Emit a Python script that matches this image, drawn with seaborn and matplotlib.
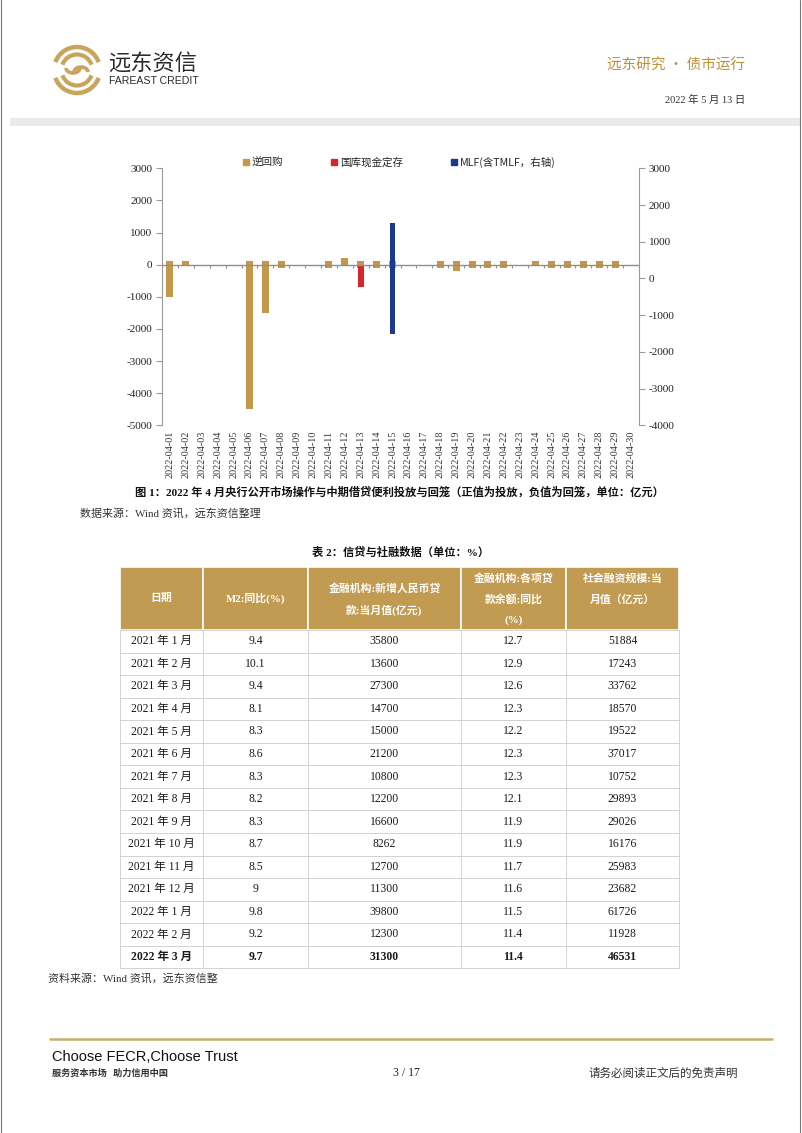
import numpy as np
import pandas as pd
import matplotlib
matplotlib.use("Agg")
import matplotlib.pyplot as plt
from matplotlib.patches import Rectangle, Arc, Patch
import seaborn as sns

# ---------------- data ----------------
dates = ["2022-04-01", "2022-04-02", "2022-04-03", "2022-04-04", "2022-04-05",
         "2022-04-06", "2022-04-07", "2022-04-08", "2022-04-09", "2022-04-10",
         "2022-04-11", "2022-04-12", "2022-04-13", "2022-04-14", "2022-04-15",
         "2022-04-16", "2022-04-17", "2022-04-18", "2022-04-19", "2022-04-20",
         "2022-04-21", "2022-04-22", "2022-04-23", "2022-04-24", "2022-04-25",
         "2022-04-26", "2022-04-27", "2022-04-28", "2022-04-29", "2022-04-30"]
nan = np.nan
# 逆回购投放 / 到期
rr_in = [100, 100, nan, nan, nan, 100, 100, 100, nan, nan,
         100, 200, 100, 100, 100, nan, nan, 100, 100, 100,
         100, 100, nan, 100, 100, 100, 100, 100, 100, nan]
rr_out = [-1000, nan, nan, nan, nan, -4500, -1500, -100, nan, nan,
          -100, nan, -100, -100, -100, nan, nan, -100, -200, -100,
          -100, -100, nan, nan, -100, -100, -100, -100, -100, nan]
# 国库现金定存
deposit = [nan, nan, nan, nan, nan, nan, nan, nan, nan, nan,
           nan, nan, -700, nan, nan, nan, nan, nan, nan, nan,
           nan, nan, nan, nan, nan, nan, nan, nan, nan, nan]
# MLF（右轴）
mlf_in = [nan, nan, nan, nan, nan, nan, nan, nan, nan, nan,
          nan, nan, nan, nan, 1500, nan, nan, nan, nan, nan,
          nan, nan, nan, nan, nan, nan, nan, nan, nan, nan]
mlf_out = [nan, nan, nan, nan, nan, nan, nan, nan, nan, nan,
           nan, nan, nan, nan, -1500, nan, nan, nan, nan, nan,
           nan, nan, nan, nan, nan, nan, nan, nan, nan, nan]

left_ticks = [3000, 2000, 1000, 0, -1000, -2000, -3000, -4000, -5000]
right_ticks = [3000, 2000, 1000, 0, -1000, -2000, -3000, -4000]

# table
tbl_dates = ["2021 年 1 月", "2021 年 2 月", "2021 年 3 月", "2021 年 4 月", "2021 年 5 月",
             "2021 年 6 月", "2021 年 7 月", "2021 年 8 月", "2021 年 9 月", "2021 年 10 月",
             "2021 年 11 月", "2021 年 12 月", "2022 年 1 月", "2022 年 2 月", "2022 年 3 月"]
m2_yoy = ["9.4", "10.1", "9.4", "8.1", "8.3", "8.6", "8.3", "8.2", "8.3", "8.7",
          "8.5", "9", "9.8", "9.2", "9.7"]
new_loans = ["35800", "13600", "27300", "14700", "15000", "21200", "10800", "12200",
             "16600", "8262", "12700", "11300", "39800", "12300", "31300"]
loan_yoy = ["12.7", "12.9", "12.6", "12.3", "12.2", "12.3", "12.3", "12.1", "11.9",
            "11.9", "11.7", "11.6", "11.5", "11.4", "11.4"]
tsf = ["51884", "17243", "33762", "18570", "19522", "37017", "10752", "29893",
       "29026", "16176", "25983", "23682", "61726", "11928", "46531"]
tbl_header = [["日期"], ["M2:同比(%)"], ["金融机构:新增人民币贷", "款:当月值(亿元)"],
              ["金融机构:各项贷", "款余额:同比", "(%)"], ["社会融资规模:当", "月值（亿元）"]]

# ---------------- style ----------------
sns.set_theme(style="white")
plt.rcParams["font.family"] = ["Liberation Serif", "Noto Sans CJK SC", "DejaVu Sans"]
MIX = ["Liberation Serif", "Noto Sans CJK SC"]
CJK = ["Noto Sans CJK SC", "DejaVu Sans"]
TAN = "#C4984A"
RED = "#D7262E"
NAVY = "#1C3A8C"
GOLD = "#C29B52"
AXC = "#9A9A9A"

W, H = 802, 1133
fig = plt.figure(figsize=(W / 100, H / 100), dpi=100)

page = fig.add_axes([0, 0, 1, 1], zorder=0)
page.set_xlim(0, W)
page.set_ylim(H, 0)
page.axis("off")

# ---------------- header ----------------
page.plot([1, 1], [0, H], color="#777777", lw=0.8)
page.plot([800, 800], [0, H], color="#777777", lw=0.8)
cx, cy = 77, 70
LOGO = "#C9A45C"
for r, lw_ in [(23, 3.2), (15.5, 3.0)]:
    page.add_patch(Arc((cx, cy), 2 * r, 2 * r, theta1=200, theta2=340, color=LOGO, lw=lw_))
    page.add_patch(Arc((cx, cy), 2 * r, 2 * r, theta1=20, theta2=160, color=LOGO, lw=lw_))
page.add_patch(Arc((cx - 4, cy - 2), 14, 10, theta1=0, theta2=180, color=LOGO, lw=2.6))
page.add_patch(Arc((cx + 4, cy + 2), 14, 10, theta1=180, theta2=360, color=LOGO, lw=2.6))
page.text(108, 63, "远东资信", family=CJK, fontsize=16, color="#2b2b2b", va="center", ha="left")
page.text(109, 81, "FAREAST CREDIT", family=["Liberation Sans"], fontsize=7.6, color="#2b2b2b",
          va="center", ha="left")
page.text(745, 66, "远东研究 • 债市运行", family=CJK, fontsize=10.5, color="#BC9238",
          va="center", ha="right")
page.text(745, 100, "2022 年 5 月 13 日", family=MIX, fontsize=7.5, color="#333333",
          va="center", ha="right")
page.add_patch(Rectangle((10, 118), 790, 8, color="#E9EBEB", lw=0))

# ---------------- chart ----------------
L, R, T, B = 162, 639, 168.3, 425.3
ax = fig.add_axes([L / W, 1 - B / H, (R - L) / W, (B - T) / H], zorder=2)
ax.patch.set_alpha(0)

df = pd.DataFrame({"date": dates, "rr_in": rr_in, "rr_out": rr_out, "deposit": deposit,
                   "mlf_in": mlf_in, "mlf_out": mlf_out})

bar_kw = dict(x="date", order=dates, saturation=1, errorbar=None, linewidth=0)
sns.barplot(data=df, y="rr_in", color=TAN, width=0.44, ax=ax, zorder=2, **bar_kw)
sns.barplot(data=df, y="rr_out", color=TAN, width=0.44, ax=ax, zorder=2, **bar_kw)
sns.barplot(data=df, y="deposit", color=RED, width=0.40, ax=ax, zorder=2, **bar_kw)

ax.set_ylim(-5000, 3000)
ax.set_xlim(-0.5, len(dates) - 0.5)
ax.set_yticks(left_ticks)
ax.set_yticklabels([str(v) for v in left_ticks])
ax.set_xticks(range(len(dates)))
ax.set_xticklabels(dates, rotation=90, family=["Liberation Serif"], fontsize=7.3, color="#333333")
ax.tick_params(axis="x", length=0, pad=4)
ax.tick_params(axis="y", length=4, width=0.8, color=AXC, direction="out", pad=3,
               labelsize=8, labelcolor="#222222")
ax.set_xlabel("")
ax.set_ylabel("")
for s in ["top", "bottom", "right"]:
    ax.spines[s].set_visible(False)
ax.spines["left"].set_color(AXC)
ax.spines["left"].set_linewidth(0.8)
ax.axhline(0, color="#8E8E96", lw=1.0, zorder=3)
ax.vlines(np.arange(len(dates) + 1) - 0.5, -90, 0, color="#8A8FA8", lw=0.8, zorder=3)

ax2 = ax.twinx()
sns.barplot(data=df, y="mlf_in", color=NAVY, width=0.26, ax=ax2, **bar_kw)
sns.barplot(data=df, y="mlf_out", color=NAVY, width=0.26, ax=ax2, **bar_kw)
ax2.set_ylim(-4000, 3000)
ax2.set_xlim(-0.5, len(dates) - 0.5)
ax2.set_yticks(right_ticks)
ax2.set_yticklabels([str(v) for v in right_ticks])
ax2.set_ylabel("")
ax2.tick_params(axis="y", length=4, width=0.8, color=AXC, direction="out", pad=3,
                labelsize=8, labelcolor="#222222")
for s in ["top", "bottom", "left"]:
    ax2.spines[s].set_visible(False)
ax2.spines["right"].set_color(AXC)
ax2.spines["right"].set_linewidth(0.8)

handles = [Patch(color=TAN, label="逆回购"), Patch(color=RED, label="国库现金定存"),
           Patch(color=NAVY, label="MLF(含TMLF，右轴)")]
ax2.legend(handles=handles, loc="center", bbox_to_anchor=(0.497, 1.023), ncol=3,
           frameon=False, handlelength=0.55, handleheight=0.55, handletextpad=0.25,
           columnspacing=4.6, prop={"family": CJK, "size": 7.6})

# ---------------- captions ----------------
page.text(399, 492, "图 1：2022 年 4 月央行公开市场操作与中期借贷便利投放与回笼（正值为投放，负值为回笼，单位：亿元）",
          family=MIX, fontsize=8.1, fontweight="bold", ha="center", va="center", color="#111111")
page.text(80, 514, "数据来源：Wind 资讯，远东资信整理", family=MIX, fontsize=7.9,
          ha="left", va="center", color="#333333")
page.text(401, 552, "表 2：信贷与社融数据（单位：%）", family=MIX, fontsize=8.1, fontweight="bold",
          ha="center", va="center", color="#111111")

# ---------------- table ----------------
cols = [120, 203, 308, 461, 566, 679]
head_top, head_bot = 567, 630
row_h = (968.3 - head_bot) / len(tbl_dates)
for j in range(5):
    page.add_patch(Rectangle((cols[j], head_top), cols[j + 1] - cols[j], head_bot - head_top,
                             facecolor=GOLD, edgecolor="white", lw=1.2))
header_y = {0: [598], 1: [598], 2: [588, 610], 3: [578, 599, 620], 4: [578, 600]}
for j, lines in enumerate(tbl_header):
    xc = (cols[j] + cols[j + 1]) / 2
    for k, line in enumerate(lines):
        page.text(xc, header_y[j][k], line, family=MIX, fontsize=7.8, color="white",
                  ha="center", va="center", fontweight="bold")

columns = [tbl_dates, m2_yoy, new_loans, loan_yoy, tsf]
n = len(tbl_dates)
for i in range(n + 1):
    y = head_bot + i * row_h
    page.plot([cols[0], cols[-1]], [y, y], color="#D2D2D2", lw=0.7)
for x in cols:
    page.plot([x, x], [head_bot, head_bot + n * row_h], color="#D2D2D2", lw=0.7)
for i in range(n):
    yc = head_bot + (i + 0.5) * row_h
    bold = "bold" if i == n - 1 else "normal"
    for j, col in enumerate(columns):
        xc = (cols[j] + cols[j + 1]) / 2
        page.text(xc, yc, col[i], family=MIX, fontsize=8.4, color="#1a1a1a",
                  ha="center", va="center", fontweight=bold)

page.text(48, 979, "资料来源：Wind 资讯，远东资信整", family=MIX, fontsize=7.9,
          ha="left", va="center", color="#333333")

# ---------------- footer ----------------
page.plot([50, 772], [1039, 1039], color="#C9AB6E", lw=1.8)
page.text(52, 1057, "Choose FECR,Choose Trust", family=["Liberation Sans"], fontsize=10.5,
          ha="left", va="center", color="#111111")
page.text(52, 1073, "服务资本市场   助力信用中国", family=CJK, fontsize=6.6, fontweight="bold",
          ha="left", va="center", color="#333333")
page.text(406, 1073, "3 / 17", family=["Liberation Serif"], fontsize=8.5,
          ha="center", va="center", color="#222222")
page.text(738, 1073, "请务必阅读正文后的免责声明", family=CJK, fontsize=8.3,
          ha="right", va="center", color="#333333")

fig.savefig("out.png", dpi=100)
